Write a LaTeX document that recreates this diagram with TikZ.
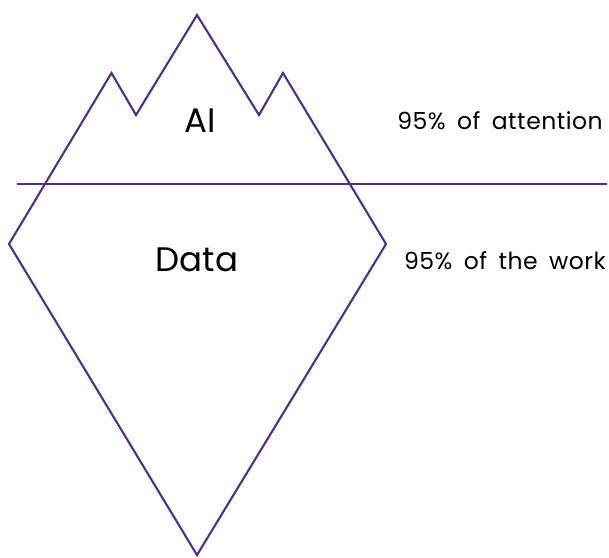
\documentclass[tikz,border=0pt]{standalone}
\usepackage{fontspec}
\setmainfont{Poppins}
\newfontfamily\sidefont{Poppins}[LetterSpace=2,WordSpace=1.7]
\definecolor{berg}{RGB}{80,45,140}
\begin{document}
\begin{tikzpicture}[x=1pt,y=-1pt,
  outline/.style={draw=berg,line width=2.1pt,line join=miter},
  biglabel/.style={font=\fontsize{34}{36}\selectfont,inner sep=0pt},
  sidelabel/.style={font=\sidefont\fontsize{23.5}{26}\selectfont,inner sep=0pt}]
\useasboundingbox (0,0) rectangle (609,557);
\coordinate (L) at (9,244);
\coordinate (P1) at (111.5,73);
\coordinate (V1) at (136,115);
\coordinate (P2) at (197,15);
\coordinate (V2) at (259,115);
\coordinate (P3) at (283,73);
\coordinate (R) at (386,244);
\coordinate (B) at (197,555);
\draw[outline] (L) -- (P1) -- (V1) -- (P2) -- (V2) -- (P3) -- (R) -- (B) -- cycle;
\coordinate (W1) at (17,184);
\coordinate (W2) at (607,184);
\draw[outline] (W1) -- (W2);
\node[biglabel] (ai) at (200,121) {AI};
\node[biglabel] (data) at (197,260) {Data};
\node[sidelabel] (att) at (500,121) {95\% of attention};
\node[sidelabel] (work) at (505,261) {95\% of the work};
\end{tikzpicture}
\end{document}
